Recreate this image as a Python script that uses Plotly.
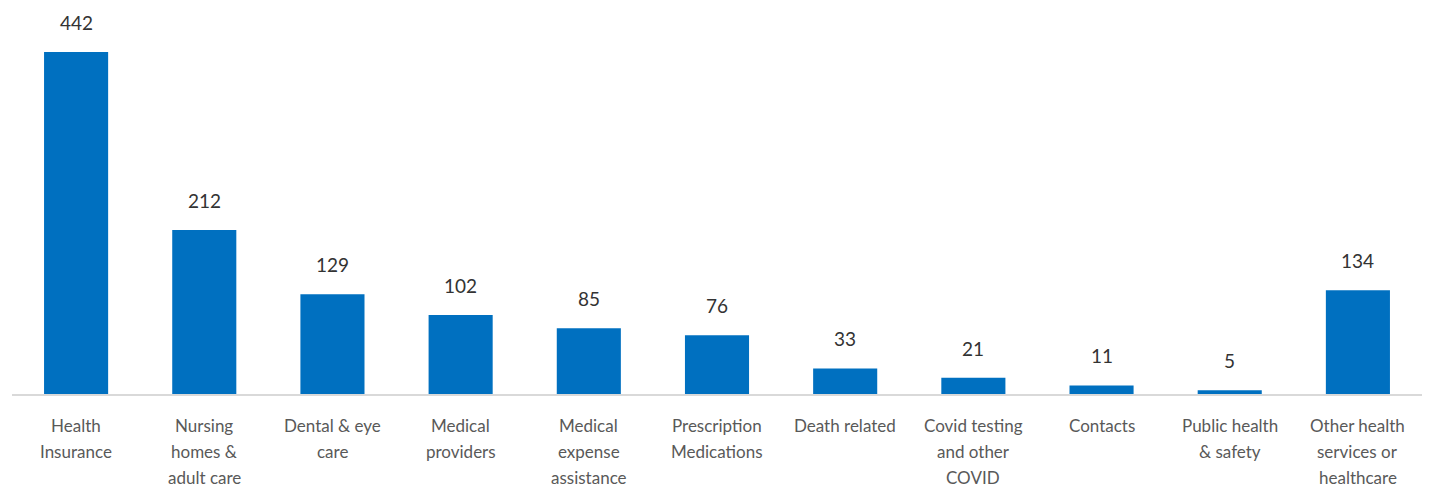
import plotly.graph_objects as go

categories = [
    "Health\nInsurance",
    "Nursing\nhomes &\nadult care",
    "Dental & eye\ncare",
    "Medical\nproviders",
    "Medical\nexpense\nassistance",
    "Prescription\nMedications",
    "Death related",
    "Covid testing\nand other\nCOVID",
    "Contacts",
    "Public health\n& safety",
    "Other health\nservices or\nhealthcare",
]
counts = [442, 212, 129, 102, 85, 76, 33, 21, 11, 5, 134]

BAR_COLOR = "#0070C0"
VALUE_COLOR = "#333333"
LABEL_COLOR = "#595959"
FONT = "Lato, Carlito, Calibri, sans-serif"

keys = [c.replace("\n", " ") for c in categories]

fig = go.Figure(
    go.Bar(
        x=keys,
        y=counts,
        marker=dict(color=BAR_COLOR, line=dict(width=0)),
        hoverinfo="x+y",
    )
)

annotations = []
# value labels above each bar
for k, v in zip(keys, counts):
    annotations.append(dict(
        x=k, y=v, xref="x", yref="y", text=str(v), showarrow=False,
        yanchor="bottom", yshift=16,
        font=dict(family=FONT, size=19, color=VALUE_COLOR),
    ))
# multi-line category labels under the baseline
for k, c in zip(keys, categories):
    for i, line in enumerate(c.split("\n")):
        annotations.append(dict(
            x=k, y=0, xref="x", yref="y", text=line, showarrow=False,
            yanchor="middle", yshift=-(31 + 26 * i),
            font=dict(family=FONT, size=17, color=LABEL_COLOR),
        ))

fig.update_layout(
    width=1433, height=487,
    margin=dict(l=12, r=11, t=7, b=93),
    paper_bgcolor="white", plot_bgcolor="white",
    bargap=0.5,
    showlegend=False,
    annotations=annotations,
    xaxis=dict(showticklabels=False, ticks="", showgrid=False, zeroline=False,
               showline=True, linecolor="#D9D9D9", linewidth=1.5),
    yaxis=dict(range=[0, 500], visible=False, showgrid=False, zeroline=False),
)

fig.write_html("out.html")
